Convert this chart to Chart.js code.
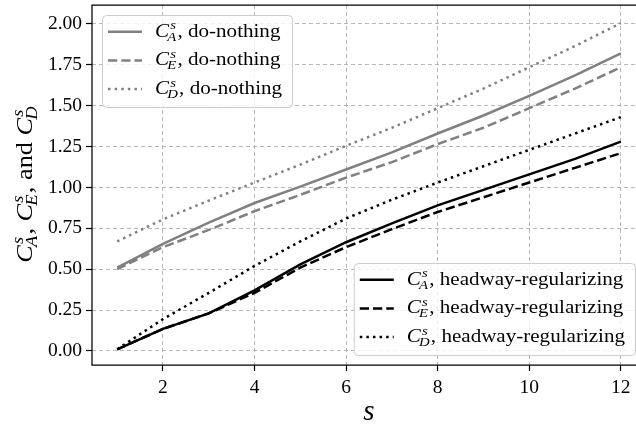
<!DOCTYPE html>
<html>
<head>
<meta charset="utf-8">
<script src="https://cdn.jsdelivr.net/npm/chart.js@4/dist/chart.umd.min.js"></script>
<style>
  html, body { margin: 0; padding: 0; background: #fff; overflow: hidden; }
  #wrap { width: 660px; height: 425px; }
</style>
</head>
<body>
<div id="wrap"><canvas id="cost-chart" width="660" height="425"></canvas></div>
<script>
// --- DATA ---
const sValues = [1, 2, 3, 4, 5, 6, 7, 8, 9, 10, 11, 12];
const aDoNothing = [0.51, 0.655, 0.785, 0.905, 1.005, 1.11, 1.215, 1.33, 1.44, 1.56, 1.685, 1.82];
const eDoNothing = [0.50, 0.635, 0.74, 0.855, 0.955, 1.06, 1.155, 1.265, 1.365, 1.485, 1.605, 1.735];
const dDoNothing = [0.67, 0.805, 0.92, 1.03, 1.14, 1.255, 1.365, 1.485, 1.605, 1.735, 1.865, 2.005];
const aHeadway = [0.01, 0.135, 0.23, 0.37, 0.53, 0.665, 0.78, 0.89, 0.985, 1.08, 1.175, 1.28];
const eHeadway = [0.01, 0.135, 0.23, 0.355, 0.51, 0.635, 0.745, 0.85, 0.94, 1.03, 1.12, 1.21];
const dHeadway = [0.01, 0.195, 0.355, 0.52, 0.67, 0.81, 0.925, 1.03, 1.13, 1.23, 1.33, 1.43];
const xTickValues = [2, 4, 6, 8, 10, 12];
const yTickValues = [0, 0.25, 0.5, 0.75, 1, 1.25, 1.5, 1.75, 2];

// --- STYLE ---
const GRAY = '#808080';
const BLACK = '#000000';
const LW = 2.5;
const DASHED = [9.25, 4];
const DOTTED = [2.5, 4.1];
const SERIF = '"Liberation Serif", "DejaVu Serif", serif';
const STRETCH = 1.17;   // widen the Times-like glyphs a little

function series(label, subscript, values, color, dash, group) {
    return {
        label: label,
        sub: subscript,
        group: group,
        data: sValues.map((s, i) => ({ x: s, y: values[i] })),
        borderColor: color,
        borderWidth: LW,
        borderDash: dash,
        borderCapStyle: 'butt',
        pointRadius: 0,
        tension: 0,
        fill: false
    };
}

const datasets = [
    series('do-nothing', 'A', aDoNothing, GRAY, [], 'top'),
    series('do-nothing', 'E', eDoNothing, GRAY, DASHED, 'top'),
    series('do-nothing', 'D', dDoNothing, GRAY, DOTTED, 'top'),
    series('headway-regularizing', 'A', aHeadway, BLACK, [], 'bottom'),
    series('headway-regularizing', 'E', eHeadway, BLACK, DASHED, 'bottom'),
    series('headway-regularizing', 'D', dHeadway, BLACK, DOTTED, 'bottom')
];

// --- MATH TEXT HELPERS ---
// Writes C^s_X pieces and plain strings left to right; returns the width (unstretched)
function mathRun(ctx, x, y, pieces, size, draw) {
    let cx = x;
    const script = size * 0.7;
    pieces.forEach(p => {
        if (typeof p === 'string') {
            ctx.font = `${size}px ${SERIF}`;
            if (draw) ctx.fillText(p, cx, y);
            cx += ctx.measureText(p).width;
        } else {
            ctx.font = `italic ${size}px ${SERIF}`;
            if (draw) ctx.fillText('C', cx, y);
            cx += ctx.measureText('C').width;
            ctx.font = `italic ${script}px ${SERIF}`;
            const wS = ctx.measureText('s').width;
            const wX = ctx.measureText(p.sub).width;
            if (draw) {
                ctx.fillText('s', cx + 1, y - size * 0.42);
                ctx.fillText(p.sub, cx - 1.5, y + size * 0.22);
            }
            cx += Math.max(wS + 1, wX - 1.5) + 1;
        }
    });
    return cx - x;
}

// stretched version: draws at (x, y) with the text widened by STRETCH
function mathText(ctx, x, y, pieces, size) {
    ctx.save();
    ctx.translate(x, y);
    ctx.scale(STRETCH, 1);
    mathRun(ctx, 0, 0, pieces, size, true);
    ctx.restore();
}

function legendBox(ctx, items) {
    const size = 18;
    const rowH = 28.7;
    const widths = items.map(ds => mathRun(ctx, 0, 0, [{ sub: ds.sub }, ', ' + ds.label], size, false) * STRETCH);
    const w = 53 + Math.max(...widths) + 10;
    const h = 92;
    return { w, h, draw: (lx, ty) => {
        ctx.save();
        ctx.beginPath();
        ctx.roundRect(lx + 0.5, ty + 0.5, w, h, 4);
        ctx.fillStyle = 'rgba(255,255,255,0.8)';
        ctx.fill();
        ctx.strokeStyle = '#cccccc';
        ctx.lineWidth = 1;
        ctx.stroke();
        items.forEach((ds, i) => {
            const cy = ty + 16.7 + i * rowH;
            ctx.beginPath();
            ctx.strokeStyle = ds.borderColor;
            ctx.lineWidth = LW;
            ctx.lineCap = 'butt';
            ctx.setLineDash(ds.borderDash);
            ctx.moveTo(lx + 6, cy);
            ctx.lineTo(lx + 40, cy);
            ctx.stroke();
            ctx.setLineDash([]);
            ctx.fillStyle = '#000';
            ctx.textBaseline = 'alphabetic';
            mathText(ctx, lx + 53, cy + 5, [{ sub: ds.sub }, ', ' + ds.label], size);
        });
        ctx.restore();
    } };
}

// frame, axis titles and the two legends
const decorPlugin = {
    id: 'decor',
    afterDatasetsDraw(chart) {
        const { ctx, chartArea: a } = chart;
        ctx.save();
        ctx.strokeStyle = '#000';
        ctx.lineWidth = 1.25;
        ctx.beginPath();
        ctx.moveTo(a.right, a.top);
        ctx.lineTo(a.left, a.top);
        ctx.lineTo(a.left, a.bottom);
        ctx.lineTo(a.right, a.bottom);
        ctx.stroke();

        // x title
        ctx.fillStyle = '#000';
        ctx.textAlign = 'left';
        ctx.textBaseline = 'alphabetic';
        ctx.font = `italic 29px ${SERIF}`;
        const sw = ctx.measureText('s').width;
        ctx.fillText('s', (a.left + a.right) / 2 - sw / 2, 420);

        // y title
        const pieces = [{ sub: 'A' }, ', ', { sub: 'E' }, ', and ', { sub: 'D' }];
        const tw = mathRun(ctx, 0, 0, pieces, 22.5, false) * STRETCH;
        ctx.translate(32, 184);
        ctx.rotate(-Math.PI / 2);
        mathText(ctx, -tw / 2, 0, pieces, 22.5);
        ctx.restore();

        const all = chart.data.datasets;
        const top = legendBox(ctx, all.filter(d => d.group === 'top'));
        top.draw(a.left + 10, a.top + 10);
        const bottom = legendBox(ctx, all.filter(d => d.group === 'bottom'));
        bottom.draw(a.right - 11 - bottom.w, a.bottom - 10 - bottom.h);
    }
};

const gridCommon = {
    color: '#b0b0b0',
    lineWidth: 0.9,
    tickColor: '#000',
    tickLength: 6,
    tickWidth: 1.2,
    tickBorderDash: []
};

new Chart(document.getElementById('cost-chart'), {
    type: 'line',
    data: { datasets },
    plugins: [decorPlugin],
    options: {
        responsive: false,
        animation: false,
        layout: { padding: { left: 0, right: 14, top: 5, bottom: 0 } },
        plugins: { legend: { display: false }, tooltip: { enabled: false } },
        scales: {
            x: {
                type: 'linear',
                min: 0.45,
                max: 12.55,
                afterBuildTicks: s => { s.ticks = xTickValues.map(v => ({ value: v })); },
                afterFit: s => { s.height = 60; s.paddingLeft = 0; s.paddingRight = 0; },
                grid: gridCommon,
                border: { display: false, dash: [4, 3] },
                ticks: {
                    color: '#000',
                    padding: 5,
                    maxRotation: 0,
                    font: { family: SERIF, size: 19.5 },
                    callback: v => String(v)
                }
            },
            y: {
                type: 'linear',
                min: -0.086,
                max: 2.116,
                afterBuildTicks: s => { s.ticks = yTickValues.map(v => ({ value: v })); },
                afterFit: s => { s.width = 92; s.paddingTop = 0; s.paddingBottom = 0; },
                grid: gridCommon,
                border: { display: false, dash: [4, 3] },
                ticks: {
                    color: '#000',
                    padding: 4,
                    font: { family: SERIF, size: 19.5 },
                    callback: v => v.toFixed(2)
                }
            }
        }
    }
});
</script>
</body>
</html>
